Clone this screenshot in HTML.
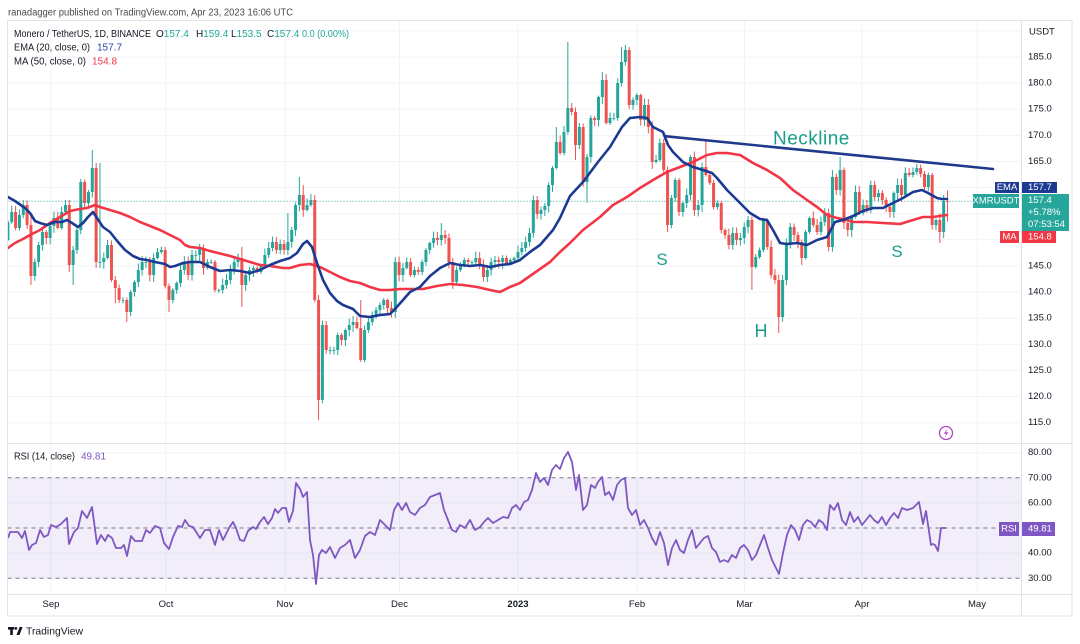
<!DOCTYPE html>
<html><head><meta charset="utf-8">
<style>
html,body{margin:0;padding:0;background:#fff;}
svg{display:block;font-family:"Liberation Sans",Arial,sans-serif;}
</style></head>
<body>
<svg id="s" width="1080" height="644" viewBox="0 0 1080 644" xmlns="http://www.w3.org/2000/svg">
<rect width="1080" height="644" fill="#fff"/>
<defs>
<clipPath id="cp"><rect x="7.5" y="21" width="1014" height="422"/></clipPath>
<clipPath id="cr"><rect x="7.5" y="444" width="1014" height="150"/></clipPath>
</defs>
<text x="8" y="15.5" font-size="10" fill="#4a4a4a" textLength="285" lengthAdjust="spacingAndGlyphs">ranadagger published on TradingView.com, Apr 23, 2023 16:06 UTC</text>

<g stroke="#f0f3fa" stroke-width="1">
<line x1="7.5" x2="1021" y1="31" y2="31"/>
<line x1="7.5" x2="1021" y1="57" y2="57"/>
<line x1="7.5" x2="1021" y1="83.1" y2="83.1"/>
<line x1="7.5" x2="1021" y1="109.2" y2="109.2"/>
<line x1="7.5" x2="1021" y1="135.4" y2="135.4"/>
<line x1="7.5" x2="1021" y1="161.5" y2="161.5"/>
<line x1="7.5" x2="1021" y1="187.6" y2="187.6"/>
<line x1="7.5" x2="1021" y1="213.7" y2="213.7"/>
<line x1="7.5" x2="1021" y1="239.8" y2="239.8"/>
<line x1="7.5" x2="1021" y1="266" y2="266"/>
<line x1="7.5" x2="1021" y1="292.1" y2="292.1"/>
<line x1="7.5" x2="1021" y1="318.2" y2="318.2"/>
<line x1="7.5" x2="1021" y1="344.3" y2="344.3"/>
<line x1="7.5" x2="1021" y1="370.5" y2="370.5"/>
<line x1="7.5" x2="1021" y1="396.6" y2="396.6"/>
<line x1="7.5" x2="1021" y1="422.7" y2="422.7"/>
<line x1="7.5" x2="1021" y1="452.7" y2="452.7"/>
<line x1="7.5" x2="1021" y1="502.9" y2="502.9"/>
<line x1="7.5" x2="1021" y1="553.1" y2="553.1"/>
<line x1="51" x2="51" y1="21" y2="594"/>
<line x1="166" x2="166" y1="21" y2="594"/>
<line x1="285" x2="285" y1="21" y2="594"/>
<line x1="399.5" x2="399.5" y1="21" y2="594"/>
<line x1="518" x2="518" y1="21" y2="594"/>
<line x1="637" x2="637" y1="21" y2="594"/>
<line x1="744.5" x2="744.5" y1="21" y2="594"/>
<line x1="862" x2="862" y1="21" y2="594"/>
<line x1="977" x2="977" y1="21" y2="594"/>
</g>

<rect x="7.5" y="477.8" width="1013.5" height="100.5" fill="#7e57c2" fill-opacity="0.1"/>
<g stroke="#787b86" stroke-width="1" stroke-dasharray="4,4">
<line x1="7.5" x2="1021" y1="477.8" y2="477.8"/>
<line x1="7.5" x2="1021" y1="528" y2="528"/>
<line x1="7.5" x2="1021" y1="578.3" y2="578.3"/>
</g>

<line x1="7.5" x2="1021" y1="201.2" y2="201.2" stroke="#26a69a" stroke-width="1" stroke-dasharray="1,2"/>

<g id="candles" clip-path="url(#cp)"></g>

<g clip-path="url(#cp)" fill="none" stroke-linejoin="round" stroke-linecap="round">
<polyline stroke="#f23645" stroke-width="2.6" points="8,248 15,243 23,239 30,235 40,230 50,223 60,217 70,211 80,209 87,208 95,205 100,207 110,210 120,213 130,217 140,222 150,226 160,230 170,235 180,240 185,245 190,247 200,248 210,251 230,256 250,262 260,265 270,266 283,268 290,268 300,265 310,264 320,267 330,272 340,277 350,281 360,283 370,287 380,290 390,290 400,289 410,289 423,289 437,286 450,284 463,285 477,287 490,290 500,292 510,287 520,283 530,276 540,269 550,262 560,252 570,243 583,230 600,217 613,205 627,197 640,188 653,180 667,172 680,167 693,162 707,155 717,153 727,153 740,155 753,163 767,170 780,178 793,190 807,200 817,207 827,215 837,218 847,220 853,222 867,222 883,223 900,224 913,220 923,217 933,217 947,215"/>
<polyline stroke="#1c3a92" stroke-width="2.6" points="8,197 15,201 25,208 30,213 35,221 40,223 47,225 55,222 62,222 67,220 72,223 78,227 83,223 88,217 93,212 97,218 103,227 110,232 118,242 125,250 133,256 140,259 147,260 155,262 165,264 170,267 175,266 183,263 190,262 200,262 210,267 220,271 230,270 240,271 250,273 260,270 270,265 280,261 290,258 297,253 303,244 307,241 312,247 317,263 323,280 330,293 337,301 343,305 353,309 360,316 370,317 380,315 390,314 395,309 403,300 410,292 420,287 430,276 440,268 450,263 460,265 470,266 480,265 490,267 500,265 510,264 520,260 530,252 540,245 553,230 560,218 570,196 583,182 598,162 610,147 622,127 630,118 640,117 647,118 653,127 663,132 668,145 673,152 683,162 693,167 703,170 712,173 717,178 727,190 740,203 750,213 760,219 767,220 773,230 780,243 787,244 797,243 807,245 817,240 827,237 835,222 843,220 853,216 863,211 873,208 883,208 893,203 903,198 913,192 922,190 928,193 937,198 942,199 947,199"/>
</g>

<line x1="665" y1="136.2" x2="993" y2="169" stroke="#1f3a8c" stroke-width="2.6" stroke-linecap="round"/>
<text x="773" y="144.5" font-size="19" fill="#1b9d8c" letter-spacing="0.5">Neckline</text>
<text x="662" y="265" font-size="17" fill="#1b9d8c" text-anchor="middle">S</text>
<text x="761" y="337" font-size="18" fill="#1b9d8c" text-anchor="middle">H</text>
<text x="897" y="257" font-size="17" fill="#1b9d8c" text-anchor="middle">S</text>

<circle cx="946" cy="433" r="6.5" fill="#fff" stroke="#ab47bc" stroke-width="1.3"/>
<path d="M947.6,428.5 L943.8,433.8 L946.2,433.8 L944.6,437.6 L948.4,432.2 L946,432.2 Z" fill="#ab47bc"/>

<polyline clip-path="url(#cr)" fill="none" stroke="#7e57c2" stroke-width="1.8" stroke-linejoin="round" points="8,538 10,532 15,532 18,532 22,538 25,531 29,550 32,545 36,543 40,530 44,537 48,535 51,525 56,527 61,524 67,518 69,544 74,532 78,528 82,511 87,518 92,507 97,544 101,535 105,541 108,535 112,538 116,548 121,548 124,545 127,556 131,536 135,541 142,541 146,530 150,533 155,526 160,528 164,543 169,549 173,537 178,526 182,527 185,520 189,526 193,527 200,538 205,530 210,530 215,545 219,530 223,540 229,528 233,522 236,528 240,540 244,541 248,531 253,527 256,529 260,522 264,517 268,524 272,518 275,509 278,513 282,508 286,508 289,522 293,511 296,483 300,489 303,497 307,492 310,540 313,555 316,584 319,555 322,550 326,553 330,547 335,558 340,548 345,545 350,540 355,558 360,550 365,536 370,532 375,535 380,520 385,525 390,530 394,510 398,503 402,510 406,503 410,512 415,515 420,508 425,505 430,497 435,495 440,493 444,510 448,520 452,530 456,532 460,525 465,528 470,520 475,530 480,527 484,522 488,518 493,523 498,520 503,517 508,518 512,508 516,505 520,510 524,502 528,500 532,490 536,473 540,482 544,478 548,485 552,470 556,465 560,469 564,458 568,452 572,462 576,490 579,475 583,510 587,505 591,485 595,488 598,482 602,477 605,495 609,492 613,500 617,485 621,480 625,478 628,508 632,515 636,510 640,525 644,520 648,528 652,538 656,545 660,532 664,543 668,565 672,548 676,540 680,550 684,553 688,540 692,530 696,548 700,543 704,538 708,536 712,548 716,552 720,562 724,560 728,562 732,555 736,558 740,548 744,545 748,550 752,560 756,555 760,545 764,535 768,548 772,560 776,568 779,574 783,553 787,535 791,525 795,530 799,540 803,525 807,520 811,522 815,527 819,520 823,523 827,530 830,505 834,510 838,503 842,520 846,525 850,512 854,522 858,517 862,525 866,520 870,515 874,520 878,523 882,517 886,525 890,518 894,513 898,518 902,508 907,510 913,508 919,502 923,524 926,511 931,545 933,544 935,545 938,551 941,528 946,528"/>

<g stroke="#e0e3eb" stroke-width="1" fill="none">
<rect x="7.5" y="20.5" width="1064.5" height="595.5"/>
<line x1="1021.5" x2="1021.5" y1="20.5" y2="616"/>
<line x1="7.5" x2="1072" y1="443.5" y2="443.5"/>
<line x1="7.5" x2="1072" y1="594.5" y2="594.5"/>
</g>

<g font-size="10" fill="#131722">
<text x="14" y="37" textLength="137" lengthAdjust="spacingAndGlyphs">Monero / TetherUS, 1D, BINANCE</text>
<text x="156" y="37">O<tspan fill="#22ab94">157.4</tspan></text>
<text x="196" y="37">H<tspan fill="#22ab94">159.4</tspan></text>
<text x="231" y="37">L<tspan fill="#22ab94">153.5</tspan></text>
<text x="267" y="37">C<tspan fill="#22ab94">157.4</tspan></text>
<text x="302" y="37" fill="#22ab94" textLength="47" lengthAdjust="spacingAndGlyphs">0.0 (0.00%)</text>
<text x="14" y="50.5" textLength="76" lengthAdjust="spacingAndGlyphs">EMA (20, close, 0)</text>
<text x="97" y="50.5" fill="#2a44a8">157.7</text>
<text x="14" y="64.5" textLength="72" lengthAdjust="spacingAndGlyphs">MA (50, close, 0)</text>
<text x="92" y="64.5" fill="#f23645">154.8</text>
<text x="14" y="459.5" textLength="61" lengthAdjust="spacingAndGlyphs">RSI (14, close)</text>
<text x="81" y="459.5" fill="#7e57c2">49.81</text>
</g>

<g font-size="9.5" fill="#131722" dominant-baseline="central">
<text x="1029" y="32">USDT</text>
<text x="1028" y="57">185.0</text>
<text x="1028" y="83.1">180.0</text>
<text x="1028" y="109.2">175.0</text>
<text x="1028" y="135.4">170.0</text>
<text x="1028" y="161.5">165.0</text>
<text x="1028" y="266">145.0</text>
<text x="1028" y="292.1">140.0</text>
<text x="1028" y="318.2">135.0</text>
<text x="1028" y="344.3">130.0</text>
<text x="1028" y="370.5">125.0</text>
<text x="1028" y="396.6">120.0</text>
<text x="1028" y="422.7">115.0</text>
<text x="1028" y="452.7">80.00</text>
<text x="1028" y="477.8">70.00</text>
<text x="1028" y="502.9">60.00</text>
<text x="1028" y="553.1">40.00</text>
<text x="1028" y="578.3">30.00</text>
</g>

<g font-size="9.5" fill="#fff" dominant-baseline="central">
<rect x="995" y="182" width="24" height="11" fill="#1c3a92"/>
<text x="1007" y="187.5" text-anchor="middle">EMA</text>
<rect x="1022" y="182" width="35" height="11" fill="#1c3a92"/>
<text x="1028" y="187.5">157.7</text>
<rect x="973" y="194" width="46" height="14" fill="#26a69a"/>
<text x="996" y="201" text-anchor="middle">XMRUSDT</text>
<rect x="1022" y="194" width="47" height="37" fill="#26a69a"/>
<text x="1028" y="200.5">157.4</text>
<text x="1028" y="212.5">+5.78%</text>
<text x="1028" y="224.5">07:53:54</text>
<rect x="1000" y="231" width="19" height="12" fill="#f23645"/>
<text x="1009.5" y="237" text-anchor="middle">MA</text>
<rect x="1022" y="231" width="34" height="12" fill="#f23645"/>
<text x="1028" y="237">154.8</text>
<rect x="999" y="522" width="20" height="14" fill="#7e57c2"/>
<text x="1009" y="529" text-anchor="middle">RSI</text>
<rect x="1022" y="522" width="33" height="14" fill="#7e57c2"/>
<text x="1028" y="529">49.81</text>
</g>

<g font-size="9.5" fill="#131722" text-anchor="middle" dominant-baseline="central">
<text x="51" y="604.5">Sep</text>
<text x="166" y="604.5">Oct</text>
<text x="285" y="604.5">Nov</text>
<text x="399.5" y="604.5">Dec</text>
<text x="518" y="604.5" font-weight="bold">2023</text>
<text x="637" y="604.5">Feb</text>
<text x="744.5" y="604.5">Mar</text>
<text x="862" y="604.5">Apr</text>
<text x="977" y="604.5">May</text>
</g>

<g fill="#131722">
<rect x="8" y="627" width="6" height="2.6"/>
<rect x="10.2" y="627" width="2.6" height="8"/>
<circle cx="15.8" cy="628.4" r="1.4"/>
<polygon points="16.5,635 19.6,627 22.6,627 19.5,635"/>
<text x="26" y="634.5" font-size="10.5" textLength="57" lengthAdjust="spacingAndGlyphs">TradingView</text>
</g>
</svg>
<script>
(function(){
var NS="http://www.w3.org/2000/svg";
var A=[[8,222],[12,212],[16,228],[20,215],[24,205],[27,225],[31,276,215,285],[35,262],[39,245],[43,232],[47,238],[50,226],[54,218],[58,228],[62,212],[66,205],[70,265,200,272],[74,250,null,285],[78,230],[82,182],[86,203],[90,192],[94,168,150],[98,262,163,268],[102,248],[105,258],[109,245],[113,280],[117,288,null,303],[121,300],[125,285],[128,312,null,322],[132,292],[136,282],[140,270],[144,262],[148,275],[152,258],[156,252],[160,250],[164,286],[168,300,null,312],[171,290],[175,283],[179,270],[183,262],[187,275],[190,262],
[194,255],[198,248],[202,268],[206,262],[210,262],[213,275,null,320],[217,290],[221,285],[225,280],[229,270],[233,262],[237,258],[240,285,247,307],[244,275],[248,270],[252,268],[256,272],[260,265],[264,255],[268,248],[272,242],[275,250],[279,244],[283,250],[287,242,213],[291,230],[294,205],[298,195,177],[302,210,185],[306,205],[309,200],[313,300,195],[317,400,null,420],[321,325],[325,350],[328,357],[332,350],[336,335],[340,340],[344,330],[348,325],[352,322],[356,328],[359,360,300],[363,330],[367,322],[371,315],[375,310],[379,305],[383,300],[387,308],[391,312],[394,262,257],[398,275],[402,268],[406,262],[410,275],[414,270],[418,272],[422,262],[426,250],[430,243],[434,238],[438,240],[442,235,223],[446,238],[450,262],[454,282],[458,270],[462,265],[466,260],[470,262],[474,258],[478,265],[482,277],[486,270],[490,262],[494,260],[498,262],[502,258],[506,263],[510,260],[514,258],[518,252],[522,248],[526,242],[530,233],[534,200],[537,214],
[541,210],[545,206],[549,185],[553,168],[557,142,127],[560,153],[564,132],[568,108,42],[572,112],[575,145,null,160],[579,127],[583,182],[587,157,null,203],[591,118],[594,120],[598,97],[602,80,72],[606,123],[609,118],[613,118],[617,83],[621,62,47],[625,50,45],[629,105],[633,100],[637,95],[640,120],[644,105],[648,127],[652,162],[656,160],[659,143],[663,170],[667,225,null,232],[671,198],[675,180],[679,212],[683,203],[686,195],[690,157,155],[694,210],[698,205],[702,167],[706,175,140],[709,183],[713,207],[717,203],[721,230],
[725,235],[729,245],[732,233],[736,240],[740,238],[743,227],[747,220],[750,233],[753,267,null,290],[757,257],[761,250],[764,220],[768,247],[772,275],[775,280],[779,317,null,333],[783,280],[786,243],[790,227],[794,235],[797,242],[801,258],[805,232],[809,218],[813,225],[816,232],[820,222],[824,213],[828,247],[831,177,170],[835,190],[839,170,157],[843,223],[846,230],[850,217],[854,192],[858,213],[862,205],[865,210],[869,185],[873,197],[877,193],[881,200],[885,207],[888,212],[892,193],[896,185],[900,195],[904,173],[908,175],[911,172],[915,168],[919,174],[923,187],[927,175],[931,225],[934,220],[938,232,null,243],[942,201],[947.5,201.6,190.6,221.5]];
function interp(x){
  if(x<=A[0][0]) return A[0][1];
  for(var k=1;k<A.length;k++){ if(x<=A[k][0]){var a=A[k-1],b=A[k];return a[1]+(b[1]-a[1])*(x-a[0])/(b[0]-a[0]);} }
  return A[A.length-1][1];
}
var g=document.getElementById('candles');
var N=246,step=3.835,xl=947.5,prev=240;
for(var i=0;i<N;i++){
  var x=xl-step*(N-1-i);
  var c=interp(x),near=null,dmin=2.2;
  for(var j=0;j<A.length;j++){var d=Math.abs(A[j][0]-x);if(d<dmin){dmin=d;near=A[j];}}
  if(near) c=near[1];
  var o=prev, top=Math.min(o,c), bot=Math.max(o,c);
  var h=top-(1.5+((i*7919)%11)*0.5);
  var l=bot+(1.5+((i*104729)%13)*0.45);
  if(near&&near[2]!=null) h=Math.min(near[2],top);
  if(near&&near[3]!=null) l=Math.max(near[3],bot);
  var col=(c<=o)?'#26a69a':'#ef5350';
  var ln=document.createElementNS(NS,'line');
  ln.setAttribute('x1',x.toFixed(2));ln.setAttribute('x2',x.toFixed(2));
  ln.setAttribute('y1',h.toFixed(1));ln.setAttribute('y2',l.toFixed(1));
  ln.setAttribute('stroke',col);ln.setAttribute('stroke-width','1');
  g.appendChild(ln);
  var r=document.createElementNS(NS,'rect');
  r.setAttribute('x',(x-1.5).toFixed(2));r.setAttribute('y',top.toFixed(1));
  r.setAttribute('width','3');r.setAttribute('height',Math.max(bot-top,0.8).toFixed(1));
  r.setAttribute('fill',col);
  g.appendChild(r);
  prev=c;
}
})();
</script>
</body></html>
